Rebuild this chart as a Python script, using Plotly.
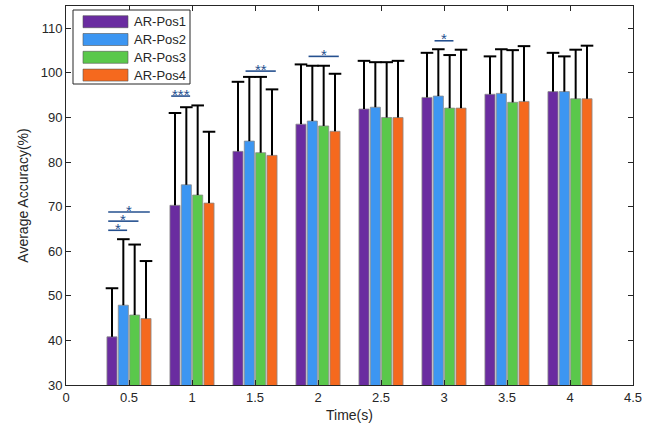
import plotly.graph_objects as go

times = [0.5, 1, 1.5, 2, 2.5, 3, 3.5, 4]
series_names = ["AR-Pos1", "AR-Pos2", "AR-Pos3", "AR-Pos4"]
pos1 = [40.8, 70.3, 82.4, 88.5, 91.9, 94.5, 95.2, 95.8]
pos2 = [47.9, 74.9, 84.7, 89.2, 92.3, 94.8, 95.4, 95.8]
pos3 = [45.7, 72.6, 82.1, 88.1, 90.0, 92.1, 93.4, 94.2]
pos4 = [44.9, 70.8, 81.5, 86.9, 90.0, 92.1, 93.6, 94.2]
sd1 = [10.9, 20.7, 15.6, 13.4, 10.8, 10.0, 8.5, 8.7]
sd2 = [14.8, 17.4, 14.4, 12.4, 10.1, 10.5, 9.9, 7.9]
sd3 = [15.8, 20.1, 17.0, 13.5, 12.4, 11.9, 11.7, 11.0]
sd4 = [12.9, 16.0, 14.8, 12.9, 12.7, 13.1, 12.4, 11.9]

# significance brackets: (time, series_from, series_to, level, label)
sig_time = [0.5, 0.5, 0.5, 1, 1.5, 2, 3]
sig_from = [0, 0, 0, 0, 1, 1, 1]
sig_to = [3, 2, 1, 1, 3, 3, 2]
sig_level = [68.8, 66.75, 64.7, 94.8, 100.4, 103.7, 107.2]
sig_label = ["*", "*", "*", "***", "**", "*", "*"]

means = [pos1, pos2, pos3, pos4]
sds = [sd1, sd2, sd3, sd4]
colors = ["#6a2ca0", "#3c96f2", "#5ac84b", "#f5691e"]
sig_color = "#25508f"

W, H = 657, 430
ML, MR, MT, MB = 66, 24, 6, 45
PW, PH = W - ML - MR, H - MT - MB

def px2x(px):
    return (px - ML) / PW

def px2y(py):
    return 1 - (py - MT) / PH

slot = 0.09
bw = 0.08

def center(t, i):
    return t + (i - 1.5) * slot

fig = go.Figure()
for i in range(4):
    fig.add_trace(go.Bar(
        x=times, y=means[i], name=series_names[i],
        width=bw, offset=(i - 2) * slot + (slot - bw) / 2,
        marker=dict(color=colors[i], line=dict(color="#8a8a8a", width=0.8)),
        showlegend=False,
    ))
for i in range(4):
    xs = [center(t, i) for t in times]
    tops = [m + s for m, s in zip(means[i], sds[i])]
    fig.add_trace(go.Scatter(
        x=xs, y=tops, mode="markers",
        marker=dict(symbol="line-ew", size=9, color="black",
                    line=dict(color="black", width=2)),
        error_y=dict(type="data", symmetric=False, array=[0] * len(times),
                     arrayminus=sds[i], thickness=2, width=0, color="black"),
        showlegend=False, hoverinfo="skip",
    ))

ext = 0.03
for t, a, b, lev, lab in zip(sig_time, sig_from, sig_to, sig_level, sig_label):
    x0 = center(t, a) - ext
    x1 = center(t, b) + ext
    fig.add_trace(go.Scatter(
        x=[x0, x1], y=[lev, lev], mode="lines",
        line=dict(color=sig_color, width=1.6),
        showlegend=False, hoverinfo="skip",
    ))
    fig.add_annotation(
        x=(x0 + x1) / 2, y=lev, text=lab, showarrow=False,
        yanchor="middle", yshift=2,
        font=dict(family="Liberation Sans, Arial", size=15, color=sig_color),
    )

# custom legend box (MATLAB style, wide colour patches)
fig.add_shape(type="rect", xref="paper", yref="paper",
              x0=px2x(73), x1=px2x(190), y0=px2y(84), y1=px2y(10),
              line=dict(color="#262626", width=1), fillcolor="white", layer="above")
for i, name in enumerate(series_names):
    cy = 21.7 + i * 17.8
    fig.add_shape(type="rect", xref="paper", yref="paper",
                  x0=px2x(83), x1=px2x(128), y0=px2y(cy + 6), y1=px2y(cy - 6),
                  line=dict(color="#555555", width=0.6), fillcolor=colors[i], layer="above")
    fig.add_annotation(xref="paper", yref="paper", x=px2x(132), y=px2y(cy),
                       xanchor="left", yanchor="middle", showarrow=False, text=name,
                       font=dict(family="Liberation Sans, Arial", size=13, color="#262626"))

axis_common = dict(
    showline=True, linecolor="#262626", linewidth=1, mirror="allticks",
    ticks="inside", ticklen=5, tickcolor="#262626", showgrid=False,
    zeroline=False, tickfont=dict(family="Liberation Sans, Arial", size=13, color="#262626"),
)
fig.update_xaxes(range=[0, 4.5], tickvals=[0, 0.5, 1, 1.5, 2, 2.5, 3, 3.5, 4, 4.5],
                 ticktext=["0", "0.5", "1", "1.5", "2", "2.5", "3", "3.5", "4", "4.5"],
                 title=dict(text="Time(s)", standoff=6,
                            font=dict(family="Liberation Sans, Arial", size=14, color="#262626")),
                 **axis_common)
fig.update_yaxes(range=[30, 115], tickvals=[30, 40, 50, 60, 70, 80, 90, 100, 110],
                 title=dict(text="Average Accuracy(%)", standoff=8,
                            font=dict(family="Liberation Sans, Arial", size=14, color="#262626")),
                 **axis_common)

fig.update_layout(
    width=W, height=H,
    margin=dict(l=ML, r=MR, t=MT, b=MB),
    plot_bgcolor="white", paper_bgcolor="white",
    showlegend=False,
)

fig.write_html("out.html")
